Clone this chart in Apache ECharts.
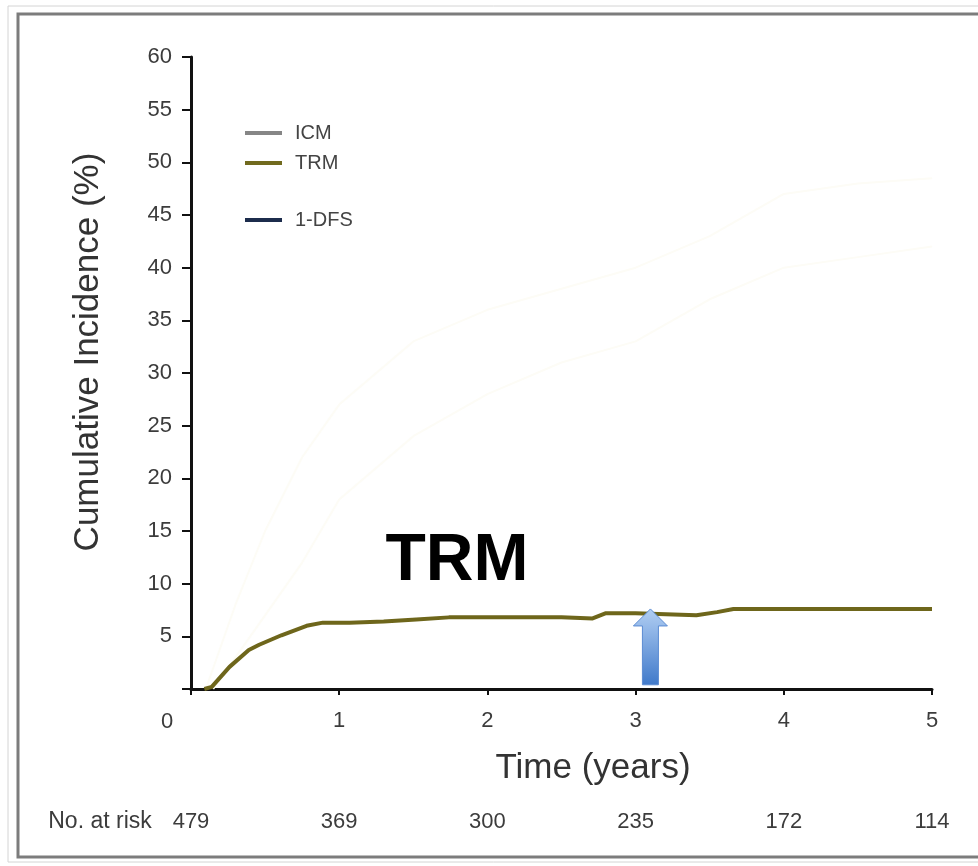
<!DOCTYPE html>
<html>
<head>
<meta charset="utf-8">
<script src="https://cdn.jsdelivr.net/npm/echarts@6/dist/echarts.min.js"></script>
<style>
  html, body { margin: 0; padding: 0; background: #fff; }
  #chart { width: 978px; height: 866px; }
</style>
</head>
<body>
<div id="chart"></div>
<script>
// TRM curve (years, %)
const trmTimes = [0.09, 0.14, 0.26, 0.39, 0.46, 0.61, 0.78, 0.89, 1.07, 1.3, 1.52, 1.74, 2.2, 2.5, 2.71, 2.8, 3.0, 3.41, 3.55, 3.66, 4.0, 4.5, 5.0];
const trmValues = [0, 0.2, 2.1, 3.7, 4.2, 5.1, 6.0, 6.3, 6.3, 6.4, 6.6, 6.8, 6.8, 6.8, 6.7, 7.2, 7.2, 7.0, 7.3, 7.6, 7.6, 7.6, 7.6];

// ICM and 1-DFS curves, almost erased in the picture
const icmTimes = [0.15, 0.4, 0.75, 1, 1.5, 2, 2.5, 3, 3.5, 4, 4.5, 5.0];
const icmValues = [0, 5, 12, 18, 24, 28, 31, 33, 37, 40, 41, 42];
const dfsTimes = [0.1, 0.3, 0.5, 0.75, 1, 1.5, 2, 2.5, 3, 3.5, 4, 4.5, 5.0];
const dfsValues = [0, 8, 15, 22, 27, 33, 36, 38, 40, 43, 47, 48, 48.5];

// number at risk under the axis
const riskTimes = [0, 1, 2, 3, 4, 5];
const riskCounts = [479, 369, 300, 235, 172, 114];

// arrow annotation: [time, from %, to %]
const arrowData = [[3.1, 0.4, 7.6]];

const FONT = "'Liberation Sans', Arial, sans-serif";
const chart = echarts.init(document.getElementById('chart'));

const zip = (xs, ys) => xs.map((x, i) => [x, ys[i]]);

const legendText = { fontFamily: FONT, fontSize: 20, color: '#444', lineHeight: 18, padding: [0, 0, 0, 8] };

const option = {
  animation: false,
  backgroundColor: '#fff',
  grid: { left: 191, right: 46, top: 57, bottom: 177 },
  legend: [
    {
      orient: 'vertical', left: 240, top: 118,
      itemWidth: 37, itemHeight: 4, itemGap: 10,
      icon: 'rect',
      textStyle: legendText,
      data: [
        { name: 'ICM', itemStyle: { color: '#868686' } },
        { name: 'TRM', itemStyle: { color: '#716a1e' } }
      ]
    },
    {
      orient: 'vertical', left: 240, top: 205,
      itemWidth: 37, itemHeight: 4,
      icon: 'rect',
      textStyle: legendText,
      data: [{ name: '1-DFS', itemStyle: { color: '#1c2c4c' } }]
    }
  ],
  xAxis: [
    {
      type: 'value', min: 0, max: 5, interval: 1,
      axisLine: { show: true, onZero: false, lineStyle: { color: '#111', width: 3 } },
      axisTick: { show: true, length: 6, lineStyle: { color: '#111', width: 2 } },
      axisLabel: {
        fontFamily: FONT, fontSize: 22, color: '#3c3c3c', margin: 21,
        formatter: v => (v === 0 ? '' : String(v))
      },
      splitLine: { show: false }
    },
    {
      type: 'value', min: 0, max: 5, interval: 1, position: 'bottom', offset: 110,
      axisLine: { show: false }, axisTick: { show: false }, splitLine: { show: false },
      axisLabel: {
        fontFamily: FONT, fontSize: 22, color: '#3c3c3c', margin: 12,
        formatter: v => {
          const i = riskTimes.indexOf(v);
          return i >= 0 ? String(riskCounts[i]) : '';
        }
      }
    }
  ],
  yAxis: {
    type: 'value', min: 0, max: 60, interval: 5,
    axisLine: { show: true, lineStyle: { color: '#111', width: 3 } },
    axisTick: { show: true, length: 9, lineStyle: { color: '#111', width: 2 } },
    axisLabel: {
      fontFamily: FONT, fontSize: 22, color: '#3c3c3c', margin: 19,
      formatter: v => (v === 0 ? '' : String(v))
    },
    splitLine: { show: false }
  },
  series: [
    {
      name: 'ICM', type: 'line', data: zip(icmTimes, icmValues), showSymbol: false,
      itemStyle: { color: '#868686' },
      lineStyle: { color: '#fdfcf6', width: 2 }, z: 1
    },
    {
      name: '1-DFS', type: 'line', data: zip(dfsTimes, dfsValues), showSymbol: false,
      itemStyle: { color: '#1c2c4c' },
      lineStyle: { color: '#fdfcf6', width: 2 }, z: 1
    },
    {
      name: 'TRM', type: 'line', data: zip(trmTimes, trmValues), showSymbol: false,
      itemStyle: { color: '#6e661b' },
      lineStyle: { color: '#6e661b', width: 4 }, z: 3
    },
    {
      name: 'arrow', type: 'custom', data: arrowData, z: 4,
      renderItem: (params, api) => {
        const top = api.coord([api.value(0), api.value(2)]);
        const bot = api.coord([api.value(0), api.value(1)]);
        const cx = top[0];
        const shaft = 8, head = 17, headLen = 17;
        return {
          type: 'polygon',
          shape: {
            points: [
              [cx, top[1]],
              [cx + head, top[1] + headLen],
              [cx + shaft, top[1] + headLen],
              [cx + shaft, bot[1]],
              [cx - shaft, bot[1]],
              [cx - shaft, top[1] + headLen],
              [cx - head, top[1] + headLen]
            ]
          },
          style: {
            fill: new echarts.graphic.LinearGradient(0, 0, 0, 1, [
              { offset: 0, color: '#b2cff3' },
              { offset: 1, color: '#3f79ca' }
            ]),
            stroke: '#5b8bd2', lineWidth: 1
          }
        };
      }
    }
  ],
  graphic: [
    { type: 'rect', shape: { x: 8, y: 6, width: 980, height: 856 }, style: { fill: 'none', stroke: '#d4d4d4', lineWidth: 1 }, z: 0 },
    { type: 'rect', shape: { x: 18, y: 14, width: 975, height: 843 }, style: { fill: 'none', stroke: '#7c7c7c', lineWidth: 3 }, z: 0 },
    { type: 'text', style: { text: '0', x: 167, y: 722, font: `22px ${FONT}`, fill: '#3c3c3c', textAlign: 'center', textVerticalAlign: 'middle' } },
    { type: 'text', style: { text: 'No. at risk', x: 100, y: 822, font: `23px ${FONT}`, fill: '#3c3c3c', textAlign: 'center', textVerticalAlign: 'middle' } },
    { type: 'text', style: { text: 'Time (years)', x: 593, y: 768, font: `35px ${FONT}`, fill: '#333', textAlign: 'center', textVerticalAlign: 'middle' } },
    { type: 'text', rotation: Math.PI / 2, x: 88, y: 352, style: { text: 'Cumulative Incidence (%)', x: 0, y: 0, font: `35px ${FONT}`, fill: '#333', textAlign: 'center', textVerticalAlign: 'middle' } },
    { type: 'text', z: 10, style: { text: 'TRM', x: 457, y: 562, font: `bold 66px ${FONT}`, fill: '#000', textAlign: 'center', textVerticalAlign: 'middle' } }
  ]
};

chart.setOption(option);
window.addEventListener('resize', () => chart.resize());
</script>
</body>
</html>
